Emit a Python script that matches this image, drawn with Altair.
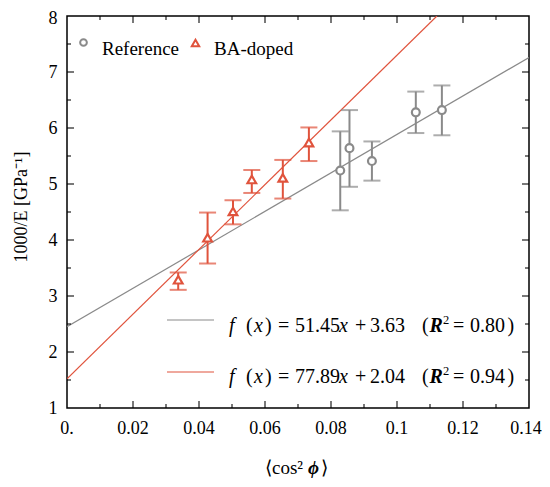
import altair as alt
import pandas as pd

# ---------------- data ----------------
ref_x = [0.0828, 0.0856, 0.0924, 0.1057, 0.1136]
ref_y = [5.24, 5.64, 5.41, 6.28, 6.32]
ref_lo = [4.53, 4.95, 5.06, 5.91, 5.87]
ref_hi = [5.94, 6.32, 5.76, 6.65, 6.76]

ba_x = [0.0337, 0.0426, 0.0503, 0.0560, 0.0654, 0.0733]
ba_y = [3.29, 4.04, 4.51, 5.08, 5.11, 5.74]
ba_lo = [3.11, 3.58, 4.28, 4.84, 4.74, 5.41]
ba_hi = [3.42, 4.49, 4.71, 5.25, 5.43, 6.01]

fit_ref_x = [0.0, 0.14]
fit_ref_y = [2.45, 7.26]
fit_ba_x = [0.0, 0.1121]
fit_ba_y = [1.52, 8.0]

x_major = [0.02, 0.04, 0.06, 0.08, 0.10, 0.12]
x_minor = [0.01, 0.03, 0.05, 0.07, 0.09, 0.11, 0.13]
y_major = [2, 3, 4, 5, 6, 7]
y_minor = [1.5, 2.5, 3.5, 4.5, 5.5, 6.5, 7.5]
x_label_pos = [0, 0.02, 0.04, 0.06, 0.08, 0.1, 0.12]
x_label_txt = ["0.", "0.02", "0.04", "0.06", "0.08", "0.1", "0.12"]
x_last_pos = [0.14]
x_last_txt = ["0.14"]
y_label_pos = [1, 2, 3, 4, 5, 6, 7]
y_label_txt = ["1", "2", "3", "4", "5", "6", "7"]
y_top_pos = [8]
y_top_txt = ["8"]

eq_ref = ["51.45", "3.63", "0.80"]
eq_ba = ["77.89", "2.04", "0.94"]

# ---------------- style ----------------
W, H = 462, 392
FONT = "Liberation Serif"
GRAY = "#8a8a8a"
RED = "#e0533c"
OX, OY = 67, 16  # page position of plot origin

xs = alt.Scale(domain=[0, 0.14], nice=False, zero=False)
ys = alt.Scale(domain=[1, 8], nice=False, zero=False)

ref = pd.DataFrame({"x": ref_x, "y": ref_y, "lo": ref_lo, "hi": ref_hi})
ba = pd.DataFrame({"x": ba_x, "y": ba_y, "lo": ba_lo, "hi": ba_hi})
one = pd.DataFrame({"a": [0]})

X = lambda f="x": alt.X(f"{f}:Q", scale=xs, axis=None)
Y = lambda f="y": alt.Y(f"{f}:Q", scale=ys, axis=None)

layers = []

# fit lines
for fx, fy, col in [(fit_ref_x, fit_ref_y, GRAY), (fit_ba_x, fit_ba_y, RED)]:
    d = pd.DataFrame({"x": fx, "y": fy})
    layers.append(alt.Chart(d).mark_line(color=col, strokeWidth=1.2, clip=True).encode(x=X(), y=Y()))

# error bars + caps + markers
for d, col, shape, size in [(ref, GRAY, "circle", 62), (ba, RED, "triangle-up", 75)]:
    layers.append(alt.Chart(d).mark_rule(color=col, strokeWidth=2).encode(x=X(), y=Y("lo"), y2="hi:Q"))
    for f in ["lo", "hi"]:
        layers.append(alt.Chart(d).mark_tick(orient="horizontal", color=col, size=17, thickness=2)
                      .encode(x=X(), y=Y(f)))
    layers.append(alt.Chart(d).mark_point(shape=shape, size=size, fill="white", fillOpacity=1,
                                          stroke=col, strokeWidth=2.2, opacity=1)
                  .encode(x=X(), y=Y()))

# inward frame ticks
def xticks(vals, L):
    d = pd.DataFrame({"v": vals})
    out = []
    for yy in [H - L / 2, L / 2]:
        out.append(alt.Chart(d).mark_tick(orient="vertical", size=L, thickness=1.5, color="black")
                   .encode(x=X("v"), y=alt.value(yy)))
    return out

def yticks(vals, L):
    d = pd.DataFrame({"v": vals})
    out = []
    for xx in [L / 2, W - L / 2]:
        out.append(alt.Chart(d).mark_tick(orient="horizontal", size=L, thickness=1.5, color="black")
                   .encode(y=Y("v"), x=alt.value(xx)))
    return out

layers += xticks(x_major, 7) + xticks(x_minor, 4) + yticks(y_major, 7) + yticks(y_minor, 4)

# tick labels
for pos, lab, dx in [(x_label_pos, x_label_txt, 0), (x_last_pos, x_last_txt, -3)]:
    xl = pd.DataFrame({"v": pos, "t": lab})
    layers.append(alt.Chart(xl).mark_text(font=FONT, fontSize=18, color="black", baseline="alphabetic",
                                          align="center", dx=dx)
                  .encode(x=X("v"), y=alt.value(434 - OY), text="t:N"))
for pos, lab, dy in [(y_label_pos, y_label_txt, 6), (y_top_pos, y_top_txt, 8.3)]:
    yl = pd.DataFrame({"v": pos, "t": lab})
    layers.append(alt.Chart(yl).mark_text(font=FONT, fontSize=18, color="black", baseline="alphabetic",
                                          align="right", dy=dy)
                  .encode(y=Y("v"), x=alt.value(57.5 - OX), text="t:N"))

# text helper (page coordinates)
def txt(s, px, py, size=19, style="normal", weight="normal", align="left", angle=0, baseline="alphabetic"):
    return alt.Chart(one).mark_text(text=s, font=FONT, fontSize=size, fontStyle=style, fontWeight=weight,
                                    align=align, baseline=baseline, angle=angle, color="black") \
        .encode(x=alt.value(px - OX), y=alt.value(py - OY))

# top legend
layers.append(alt.Chart(one).mark_point(shape="circle", size=45, fill="white", fillOpacity=1, stroke=GRAY,
                                        strokeWidth=2).encode(x=alt.value(83.5 - OX), y=alt.value(42.5 - OY)))
layers.append(txt("Reference", 102, 55))
layers.append(alt.Chart(one).mark_point(shape="triangle-up", size=55, fill="white", fillOpacity=1, stroke=RED,
                                        strokeWidth=2).encode(x=alt.value(195.5 - OX), y=alt.value(43 - OY)))
layers.append(txt("BA-doped", 214, 55))

# bottom legend (fit equations)
for (a, b, r2), col, ly, base in [(eq_ref, GRAY, 320, 332), (eq_ba, RED, 372, 383)]:
    layers.append(alt.Chart(one).mark_rule(color=col, strokeWidth=1.2)
                  .encode(x=alt.value(167 - OX), x2=alt.value(214 - OX), y=alt.value(ly - OY)))
    pieces = [
        ("f", 229, "italic", "normal"),
        ("(", 246, "normal", "normal"),
        ("x", 254, "italic", "normal"),
        (")", 265, "normal", "normal"),
        ("=", 278, "normal", "normal"),
        (a, 295, "normal", "normal"),
        ("x", 339, "italic", "normal"),
        ("+", 355, "normal", "normal"),
        (b, 370, "normal", "normal"),
        ("(", 422, "normal", "normal"),
        ("R", 429.5, "italic", "bold"),
        ("=", 453, "normal", "normal"),
        (r2, 470, "normal", "normal"),
        (")", 507.5, "normal", "normal"),
    ]
    for s, px, st, wt in pieces:
        layers.append(txt(s, px, base, 20, st, wt))
    layers.append(txt("2", 443, base - 8, 12.5))

# axis titles
layers.append(txt("1000/E [GPa\u207b\u00b9]", 22, 207, 18, angle=270, align="center", baseline="middle"))
layers.append(txt("\u27e8cos\u00b2", 303, 474, 19, align="right"))
layers.append(txt("\u03d5", 308, 474, 19, style="italic", weight="bold"))
layers.append(txt("\u27e9", 321, 474, 19))

chart = alt.layer(*layers).properties(
    width=W, height=H,
    padding={"left": OX - 8, "top": OY - 8, "right": 550 - 16 - W - (OX - 8), "bottom": 487 - 16 - H - (OY - 8)},
    autosize=alt.AutoSizeParams(type="none"),
).configure(background="white").configure_view(stroke="black", strokeWidth=1.5)

chart.save("out.html", embed_options={"renderer": "svg", "actions": False})
